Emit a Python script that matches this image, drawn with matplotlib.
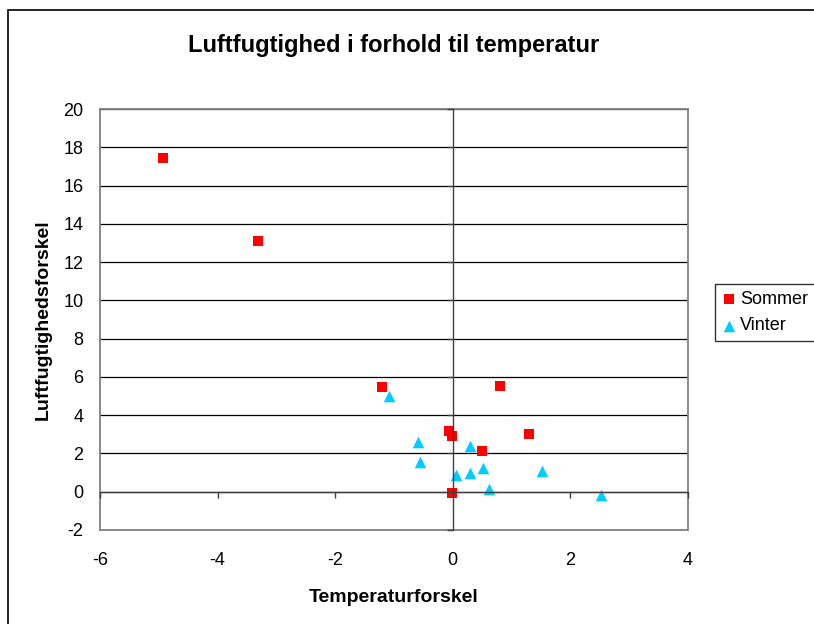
import matplotlib
matplotlib.use("Agg")
import matplotlib.pyplot as plt
from matplotlib.patches import Rectangle

plt.rcParams['font.family'] = ['Liberation Sans', 'DejaVu Sans']
plt.rcParams['axes.unicode_minus'] = False

# Data
sommer_x = [-4.93, -3.32, -1.21, 0.81, 1.29, -0.07, -0.02, 0.50, -0.02]
sommer_y = [17.45, 13.1, 5.47, 5.55, 3.02, 3.19, 2.93, 2.15, -0.05]
vinter_x = [-1.09, -0.60, -0.55, 0.05, 0.30, 0.30, 0.51, 0.61, 1.51, 2.52]
vinter_y = [5.0, 2.58, 1.54, 0.85, 2.41, 0.99, 1.23, 0.12, 1.07, -0.19]

xticks = [-6, -4, -2, 0, 2, 4]
yticks = [-2, 0, 2, 4, 6, 8, 10, 12, 14, 16, 18, 20]

fig = plt.figure(figsize=(8.14, 6.24), dpi=100)

# outer chart border (cut off at right and bottom like the screenshot)
fig.patches.append(Rectangle((8 / 814, -0.05), 1.2, 1 - 10 / 624 + 0.05,
                             transform=fig.transFigure, fill=False,
                             edgecolor='black', linewidth=1.2))

pos = [100 / 814, 1 - 530 / 624, 588 / 814, 421 / 624]
ax = fig.add_axes(pos)
ax.set_xlim(-6, 4)
ax.set_ylim(-2, 20)
ax.set_xticks(xticks)
ax.set_yticks(yticks)
ax.tick_params(length=0, labelsize=13)
ax.tick_params(axis='x', pad=16)
ax.tick_params(axis='y', pad=12)
ax.yaxis.grid(True, color='black', linewidth=0.9)
ax.set_axisbelow(True)
for s in ax.spines.values():
    s.set_color('#808080')
    s.set_linewidth(1.3)

ax.scatter(sommer_x, sommer_y, marker='s', s=48, color='#ff0000',
           linewidths=0, label='Sommer', zorder=3)
ax.scatter(vinter_x, vinter_y, marker='^', s=70, color='#00ccff',
           linewidths=0, label='Vinter', zorder=3)

ax.set_title('Luftfugtighed i forhold til temperatur', fontsize=17,
             fontweight='bold', pad=41)
ax.set_xlabel('Temperaturforskel', fontsize=14, fontweight='bold', labelpad=14)
ax.set_ylabel('Luftfugtighedsforskel', fontsize=14, fontweight='bold', labelpad=8)

# axis lines crossing at zero, with small tick marks (Excel style)
ax2 = fig.add_axes(pos)
ax2.set_xlim(-6, 4)
ax2.set_ylim(-2, 20)
ax2.set_xticks(xticks)
ax2.set_yticks(yticks)
ax2.patch.set_visible(False)
ax2.spines['left'].set_position(('data', 0))
ax2.spines['bottom'].set_position(('data', 0))
ax2.spines['top'].set_visible(False)
ax2.spines['right'].set_visible(False)
for side in ['left', 'bottom']:
    ax2.spines[side].set_color('#404040')
    ax2.spines[side].set_linewidth(1.0)
ax2.tick_params(direction='out', length=4, width=1, color='#404040',
                labelleft=False, labelbottom=False)

leg = ax.legend(loc='upper left', bbox_to_anchor=(715 / 814, 1 - 284 / 624),
                bbox_transform=fig.transFigure, fontsize=13, frameon=True,
                fancybox=False, edgecolor='black', handlelength=0.7,
                handletextpad=0.3, borderpad=0.4, labelspacing=0.5,
                borderaxespad=0)
leg.get_frame().set_linewidth(1.0)

fig.savefig('out.png', dpi=100)
